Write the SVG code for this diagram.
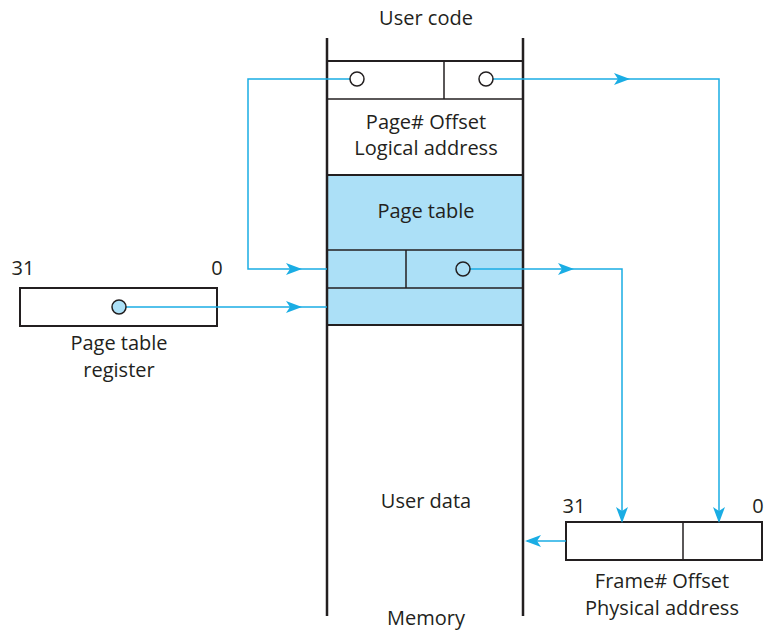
<svg xmlns="http://www.w3.org/2000/svg" width="765" height="631" viewBox="0 0 765 631">
<style>
text{font-family:"Open Sans","Noto Sans","Liberation Sans",sans-serif;font-size:20px;fill:#231f20;text-anchor:middle}
.k{stroke:#231f20;fill:none}
.c{stroke:#1aade4;stroke-width:1.5;fill:none}
</style>
<defs>
<marker id="ah" viewBox="0 0 16 12" refX="14" refY="6" markerWidth="16" markerHeight="12" markerUnits="userSpaceOnUse" orient="auto">
<path d="M0,0 L16,6 L0,12 L4,6 Z" fill="#1aade4"/>
</marker>
</defs>
<rect width="765" height="631" fill="#fff"/>
<g id="memory">
<rect x="327" y="175" width="196" height="150" fill="#ace0f7"/>
<line class="k" x1="327" y1="38" x2="327" y2="616" stroke-width="2.5"/>
<line class="k" x1="523" y1="38" x2="523" y2="616" stroke-width="2.5"/>
<text x="426" y="25">User code</text>
<text x="426" y="508">User data</text>
<text x="426" y="625">Memory</text>
</g>
<g id="logical">
<line class="k" x1="327" y1="61" x2="523" y2="61" stroke-width="2"/>
<line class="k" x1="327" y1="99" x2="523" y2="99" stroke-width="1.5"/>
<line class="k" x1="444" y1="61" x2="444" y2="99" stroke-width="1.5"/>
<text x="426" y="129">Page# Offset</text>
<text x="426" y="155">Logical address</text>
</g>
<g id="pagetable">
<line class="k" x1="327" y1="175" x2="523" y2="175" stroke-width="2"/>
<line class="k" x1="327" y1="250" x2="523" y2="250" stroke-width="1.5"/>
<line class="k" x1="327" y1="288" x2="523" y2="288" stroke-width="1.5"/>
<line class="k" x1="327" y1="325" x2="523" y2="325" stroke-width="2"/>
<line class="k" x1="406" y1="250" x2="406" y2="288" stroke-width="1.5"/>
<text x="426" y="218">Page table</text>
</g>
<g id="ptr">
<rect class="k" x="20" y="288" width="197" height="38" stroke-width="2"/>
<text x="23" y="275">31</text>
<text x="217" y="275">0</text>
<text x="119" y="350">Page table</text>
<text x="119" y="377">register</text>
</g>
<g id="physical">
<rect class="k" x="566" y="522" width="196" height="38" stroke-width="2"/>
<line class="k" x1="683" y1="522" x2="683" y2="560" stroke-width="1.5"/>
<text x="574" y="513">31</text>
<text x="758" y="513">0</text>
<text x="662" y="588">Frame# Offset</text>
<text x="662" y="615">Physical address</text>
</g>
<g id="connectors">
<path class="c" d="M350,79 H248 V269 H300" marker-end="url(#ah)"/>
<path class="c" d="M298,269 H327"/>
<path class="c" d="M126,307 H300" marker-end="url(#ah)"/>
<path class="c" d="M298,307 H327"/>
<path class="c" d="M493,79 H628" marker-end="url(#ah)"/>
<path class="c" d="M626,79 H719 V521" marker-end="url(#ah)"/>
<path class="c" d="M470,269 H572" marker-end="url(#ah)"/>
<path class="c" d="M570,269 H622 V521" marker-end="url(#ah)"/>
<path class="c" d="M566,541 H527" marker-end="url(#ah)"/>
</g>
<g id="dots" stroke="#231f20" stroke-width="1.5">
<circle cx="357" cy="79" r="7" fill="#fff"/>
<circle cx="486" cy="79" r="7" fill="#fff"/>
<circle cx="463" cy="269" r="7" fill="#ace0f7"/>
<circle cx="119" cy="307" r="7" fill="#ace0f7"/>
</g>
</svg>
